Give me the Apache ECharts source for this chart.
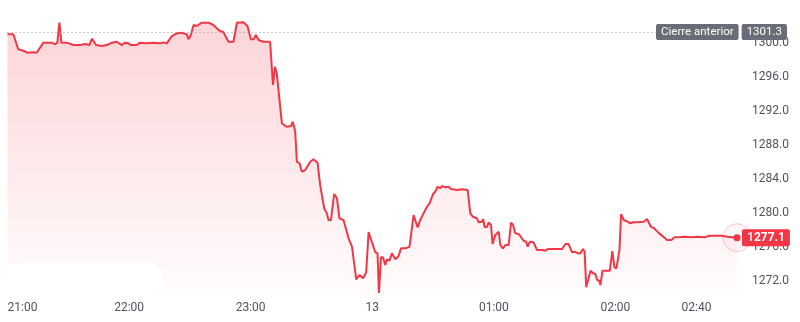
<!DOCTYPE html>
<html>
<head>
<meta charset="utf-8">
<script src="https://cdn.jsdelivr.net/npm/echarts@6/dist/echarts.min.js"></script>
<style>
html,body{margin:0;padding:0;background:#fff;}
#chart{width:800px;height:322px;}
</style>
</head>
<body>
<div id="chart"></div>
<script>
// minutes elapsed since 21:00 (day 12)
const minutesSince2100 = [0,2.9,5.3,7.8,9.8,12.7,14.4,17.7,21.8,23.5,24.6,25.6,26.6,29.2,32.5,35.8,38.3,40.4,41.7,43.7,46.5,49,51.5,53.9,56.4,58,59.7,60.8,63.8,65.4,68.7,72,75.3,76.9,78.6,81.1,83.6,86,88.5,89.3,90.5,91.8,93.4,95.9,99.2,101.6,104.6,106.6,109,111.5,113.2,116.4,118.4,120.1,121.4,122.6,123.9,126.3,129.6,131,132,132.9,133.7,135.4,136.5,137.9,139.9,140.8,142,142.8,144.1,145.3,146.9,149.4,151,153,154.3,155.2,156.3,157.6,158.4,159.6,161.2,162.6,163.8,165.8,167.2,168.3,170,172.1,173.7,175.4,177,178.2,179.9,181.5,182.6,183.3,184.3,185.3,186.4,187.3,188.5,189.7,190.5,191.4,193,194.2,196.3,198.4,199.3,200.4,201.2,202.4,203.7,205.3,207,208.3,210,211.1,212.2,213.6,214.4,216,217.7,218.9,221.8,224.3,227.1,228.4,229.7,231.7,232.5,234.2,234.7,235.5,236.7,237.4,238.6,239.4,240.7,242.4,243.2,244.5,245.7,247.3,248.5,249.5,250.6,252.2,253.1,253.9,254.7,256,256.7,257.7,259.6,261.3,263.8,265.4,266.6,269.5,273.7,275.3,276.9,278.6,280.2,281.4,282.7,284,284.8,285.6,286.5,287.7,289,290.1,291,292,292.6,293.6,295.1,297.2,298.5,299.5,300.5,302,302.8,304.1,306.1,307.1,308.7,310.7,314,315.6,317.5,319.1,321.6,324.1,325.4,327.7,329,331.5,334,337.3,340.6,343.9,346.4,348.8,352.1,355.4,360];

const prices = [1301.02,1301.02,1299.26,1299.09,1298.86,1298.91,1298.86,1300.04,1300.04,1299.85,1300.04,1302.39,1300.04,1300.04,1299.76,1299.76,1299.88,1299.76,1300.51,1299.76,1299.65,1299.76,1300.04,1300.15,1299.76,1300.04,1299.96,1299.76,1299.76,1300.04,1299.96,1300.04,1299.96,1300.08,1299.96,1300.82,1301.14,1301.21,1301.02,1300.44,1300.94,1302.12,1302.0,1302.39,1302.39,1302.12,1301.45,1301.26,1300.15,1300.15,1302.39,1302.44,1302.0,1300.44,1300.44,1300.94,1300.35,1300.15,1300.15,
1295.06,1297.21,1296.44,1296.55,1290.55,1290.35,1290.15,1290.24,1290.74,1289.56,
1286.04,1285.85,1284.86,1285.06,1286.04,1286.32,1285.92,1283.29,1283.21,1280.55,
1279.96,1279.18,1279.18,1282.24,1281.73,1279.38,1279.18,1278.0,1277.02,1276.04,
1272.2,1272.71,1272.32,1273.0,1277.76,1276.53,1275.39,1275.29,1270.59,1274.79,
1274.79,1273.88,1274.55,1274.39,1275.26,1275.33,1274.55,1274.94,1275.85,1275.85,
1276.04,1275.96,1279.76,1279.88,1278.32,1279.18,1279.96,1280.74,1281.14,1282.24,
1282.51,1283.09,1282.91,1283.18,1283.02,1283.09,1282.82,1282.71,1282.79,1282.71,
1279.96,1279.56,1279.38,1278.91,1278.98,1279.29,1278.32,1278.39,1278.91,1278.59,
1276.35,1277.41,1277.8,1276.24,1275.85,1276.24,1276.24,1278.86,1278.59,1277.61,
1277.53,1277.29,1277.33,1276.74,1276.62,1276.04,1276.62,1276.55,1275.65,1275.65,
1275.56,1275.76,1275.76,1275.76,1276.35,1276.35,1275.38,1275.45,1275.26,1275.26,
1275.76,1275.45,1271.26,1271.26,1273.21,1272.91,1272.82,1272.12,1272.04,1271.53,
1273.21,1273.21,1273.21,1275.53,1273.61,1273.49,1275.65,1279.88,1279.18,1278.98,
1278.79,1278.91,1278.91,1278.98,1279.29,1278.39,1278.2,1277.61,1277.14,1276.82,
1276.82,1277.14,1277.14,1277.21,1277.14,1277.21,1277.14,1277.33,1277.33,1277.33,
1277.21,1277.1];

const previousClose = 1301.3;
const previousCloseLabel = 'Cierre anterior';

const xTickMinutes = [0, 60, 120, 180, 240, 300, 340];
const xTickLabels = ['21:00', '22:00', '23:00', '13', '01:00', '02:00', '02:40'];
const yTickValues = [1272, 1276, 1280, 1284, 1288, 1292, 1296, 1300];

const start = new Date(2024, 11, 12, 21, 0, 0).getTime();
const toTs = m => start + Math.round(m * 60000);
const n = Math.min(minutesSince2100.length, prices.length);
const seriesData = [];
for (let i = 0; i < n; i++) seriesData.push([toTs(minutesSince2100[i]), prices[i]]);
const last = seriesData[seriesData.length - 1];
const tickTs = xTickMinutes.map(toTs);

const RED = '#f23645';
const FONT = 'Roboto';

const chart = echarts.init(document.getElementById('chart'), null, {renderer: 'canvas'});
chart.setOption({
  animation: false,
  backgroundColor: '#ffffff',
  grid: {left: 7.5, right: 63, top: 0, bottom: 26},
  xAxis: {
    type: 'value',
    min: start,
    max: toTs(360),
    axisLine: {show: false},
    axisTick: {show: false},
    splitLine: {show: false},
    axisLabel: {
      customValues: tickTs,
      formatter: function (v) {
        const idx = tickTs.indexOf(v);
        return idx >= 0 ? xTickLabels[idx] : '';
      },
      alignMinLabel: 'left',
      color: '#50535e',
      fontFamily: FONT,
      fontSize: 12,
      margin: 6
    }
  },
  yAxis: {
    type: 'value',
    position: 'right',
    min: 1270.24,
    max: 1305.06,
    axisLine: {show: false},
    axisTick: {show: false},
    splitLine: {show: false},
    axisLabel: {
      customValues: yTickValues,
      formatter: v => v.toFixed(1),
      color: '#50535e',
      fontFamily: FONT,
      fontSize: 12,
      margin: 15
    }
  },
  graphic: [{
    type: 'rect',
    shape: {x: 8, y: 263, width: 155, height: 33, r: [3, 16, 14, 0]},
    style: {fill: '#ffffff'},
    z: 5
  }],
  series: [{
    type: 'line',
    data: seriesData,
    showSymbol: false,
    smooth: false,
    z: 3,
    lineStyle: {color: RED, width: 2},
    areaStyle: {
      color: new echarts.graphic.LinearGradient(0, 0, 0, 1, [
        {offset: 0, color: 'rgba(242,54,69,0.30)'},
        {offset: 1, color: 'rgba(242,54,69,0.02)'}
      ])
    },
    endLabel: {
      show: true,
      formatter: p => p.value[1].toFixed(1),
      backgroundColor: RED,
      color: '#ffffff',
      fontFamily: FONT,
      fontSize: 12,
      fontWeight: 'bold',
      padding: [3, 5, 2, 5],
      borderRadius: 2,
      distance: 5
    },
    markLine: {
      silent: true,
      symbol: ['none', 'none'],
      lineStyle: {color: '#9598a1', type: [1, 3], width: 1},
      label: {
        show: true,
        position: 'end',
        distance: 0,
        offset: [-81, 0],
        formatter: '{a|' + previousCloseLabel + '}{g|}{b|' + previousClose.toFixed(1) + '}',
        rich: {
          a: {backgroundColor: '#6a6d78', color: '#fff', fontFamily: FONT, fontSize: 11.5, padding: [2, 5, 2, 5], borderRadius: 2},
          g: {width: 3},
          b: {backgroundColor: '#6a6d78', color: '#fff', fontFamily: FONT, fontSize: 11.5, padding: [2, 5, 2, 5], borderRadius: 2}
        }
      },
      data: [{yAxis: previousClose}]
    },
    markPoint: {
      silent: true,
      label: {show: false},
      data: [
        {coord: last, symbol: 'circle', symbolSize: 28, itemStyle: {color: 'rgba(242,54,69,0.05)', borderColor: 'rgba(242,54,69,0.25)', borderWidth: 1}},
        {coord: last, symbol: 'circle', symbolSize: 7, itemStyle: {color: RED}}
      ]
    }
  }]
});
</script>
</body>
</html>
